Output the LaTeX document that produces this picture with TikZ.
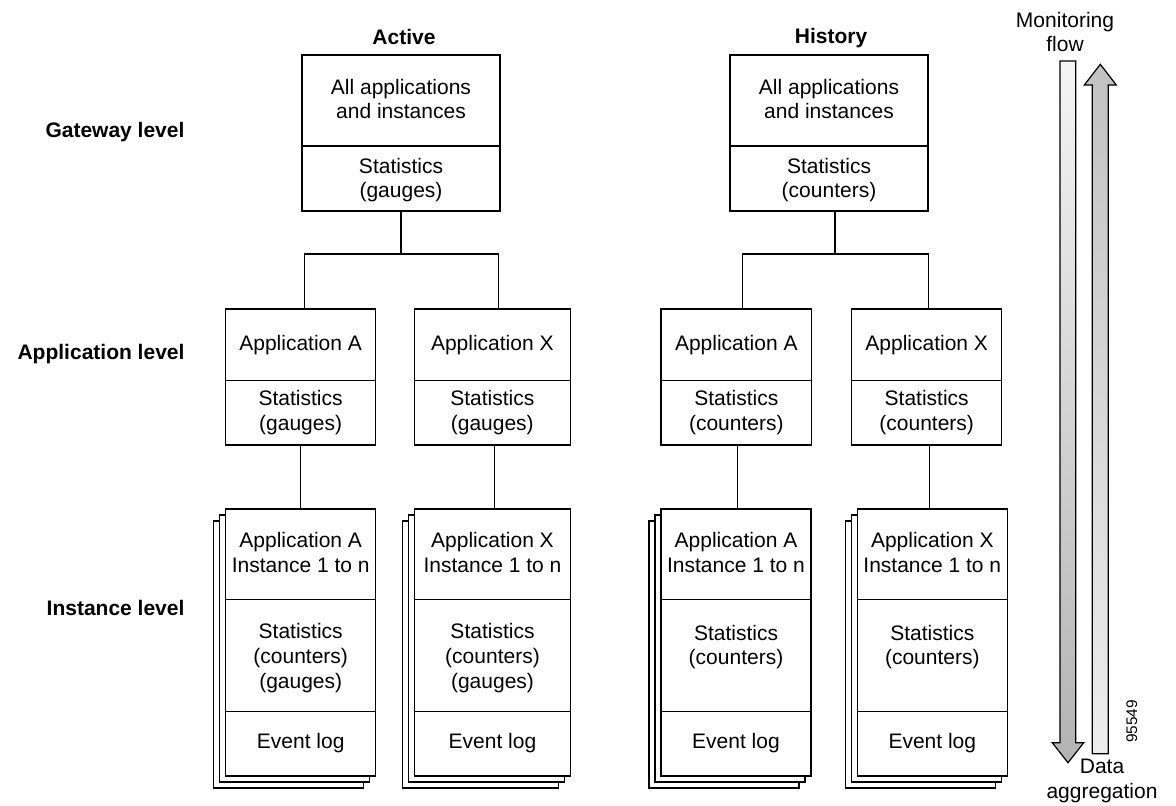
\documentclass[tikz,border=0pt]{standalone}
\usepackage{fontspec}
\setmainfont{Liberation Sans}
\usetikzlibrary{fit}

% Box of an instance, with two copies stacked behind it
\newcommand\stackedbox[3]{% name, left, right
  \draw[fill=white] ({#2-12},521) rectangle ({#3-12},788);
  \draw[fill=white] ({#2-6},515) rectangle ({#3-6},782);
  \node[frame, fit={(#2,509) (#3,776)}] (#1) {};
  \draw (#1.west |- 0,599.5) -- (#1.east |- 0,599.5);
  \draw (#1.west |- 0,711.5) -- (#1.east |- 0,711.5);
}

\begin{document}
\begin{tikzpicture}[x=0.5pt,y=-0.5pt,
  line width=0.55pt,
  frame/.style={draw, fill=white, inner sep=0pt, line width=0.55pt},
  gwframe/.style={frame, line width=1.1pt},
  txt/.style={align=center, inner sep=0pt, font=\fontsize{10.5}{12.3}\selectfont},
  lvl/.style={anchor=east, inner sep=0pt, font=\fontsize{10.5}{12.3}\selectfont\bfseries},
  head/.style={inner sep=0pt, font=\fontsize{10.5}{12.3}\selectfont\bfseries},
  flowarrow/.style={draw, line width=0.6pt},
  ]
\useasboundingbox (0,0) rectangle (1176,805);

% ---- level labels
\node[lvl] (lgw)   at (185,132) {Gateway level};
\node[lvl] (lapp)  at (185,354) {Application level};
\node[lvl] (linst) at (185,608) {Instance level};

% ---- column headings
\node[head] (hact) at (404,37) {Active};
\node[head] (hhis) at (831,38) {History};

% ---- gateway level
\node[gwframe, fit={(302,55) (500,211)}] (gwA) {};
\draw (gwA.west |- 0,146) -- (gwA.east |- 0,146);
\node[txt] (gwAt) at (401,99) {All applications\\and instances};
\node[txt] (gwAs) at (401,180) {Statistics\\(gauges)};

\node[gwframe, fit={(730,55) (928,211)}] (gwH) {};
\draw (gwH.west |- 0,146) -- (gwH.east |- 0,146);
\node[txt] (gwHt) at (829,99) {All applications\\and instances};
\node[txt] (gwHs) at (829,180) {Statistics\\(counters)};

% ---- application level
\node[frame, fit={(225.5,309) (375.7,445)}] (appAa) {};
\node[frame, fit={(414.3,309) (570.3,445)}] (appAx) {};
\node[frame, fit={(661,309) (811.7,445)}] (appHa) {};
\node[frame, fit={(851.7,309) (1001.7,445)}] (appHx) {};
\foreach \b in {appAa,appAx,appHa,appHx}
  \draw (\b.west |- 0,380.5) -- (\b.east |- 0,380.5);

\node[txt] (appAat) at (300.6,345.5) {Application A};
\node[txt] (appAas) at (300.6,412.5) {Statistics\\(gauges)};
\node[txt] (appAxt) at (492.3,345.5) {Application X};
\node[txt] (appAxs) at (492.3,412.5) {Statistics\\(gauges)};
\node[txt] (appHat) at (736.3,345.5) {Application A};
\node[txt] (appHas) at (736.3,412.5) {Statistics\\(counters)};
\node[txt] (appHxt) at (926.7,345.5) {Application X};
\node[txt] (appHxs) at (926.7,412.5) {Statistics\\(counters)};

% ---- instance level
\stackedbox{instAa}{225.7}{375.7}
\stackedbox{instAx}{414.7}{570.3}
\stackedbox{instHa}{661}{811}
\stackedbox{instHx}{857.3}{1007.3}

\node[txt] (instAat) at (300.7,552.5) {Application A\\Instance 1 to n};
\node[txt] (instAas) at (300.7,658) {Statistics\\(counters)\\(gauges)};
\node[txt] (instAae) at (300.7,743.5) {Event log};
\node[txt] (instAxt) at (492.5,552.5) {Application X\\Instance 1 to n};
\node[txt] (instAxs) at (492.5,658) {Statistics\\(counters)\\(gauges)};
\node[txt] (instAxe) at (492.5,743.5) {Event log};
\node[txt] (instHat) at (736,552.5) {Application A\\Instance 1 to n};
\node[txt] (instHas) at (736,647) {Statistics\\(counters)};
\node[txt] (instHae) at (736,743.5) {Event log};
\node[txt] (instHxt) at (932.3,552.5) {Application X\\Instance 1 to n};
\node[txt] (instHxs) at (932.3,647) {Statistics\\(counters)};
\node[txt] (instHxe) at (932.3,743.5) {Event log};

% ---- tree connectors
\draw (gwA.south) -- (gwA.south |- 0,254);
\draw ([xshift=2pt]appAa.north) |- (gwA.south |- 0,254) -| ([xshift=3pt]appAx.north);
\draw ([xshift=3pt]gwH.south) -- ([xshift=3pt]gwH.south |- 0,254);
\draw ([xshift=3pt]appHa.north) |- ([xshift=3pt]gwH.south |- 0,254) -| ([xshift=1pt]appHx.north);

\draw (appAa.south) -- (appAa.south |- instAa.north);
\draw ([xshift=1.3pt]appAx.south) -- ([xshift=1.3pt]appAx.south |- instAx.north);
\draw ([xshift=0.5pt]appHa.south) -- ([xshift=0.5pt]appHa.south |- instHa.north);
\draw ([xshift=1.3pt]appHx.south) -- ([xshift=1.3pt]appHx.south |- instHx.north);

% ---- monitoring flow (down) and data aggregation (up)
\path[flowarrow, top color=black!4, bottom color=black!30]
  (1060,61) -- (1075.7,61) -- (1075.7,742.7) -- (1083.7,742.7)
  -- (1068,762.7) -- (1052.3,742.7) -- (1060,742.7) -- cycle;
\path[flowarrow, top color=black!24, bottom color=black!7]
  (1092.3,753.7) -- (1108.3,753.7) -- (1108.3,85) -- (1116.3,85)
  -- (1100.3,64.3) -- (1084.3,85) -- (1092.3,85) -- cycle;

\node[txt] (mon) at (1065,32) {Monitoring\\flow};
\node[txt] (agg) at (1102,781) {Data\\aggregation};
\node[rotate=90, inner sep=0pt, font=\fontsize{7.7}{9}\selectfont] (fig) at (1131.7,721.5) {95549};

\end{tikzpicture}
\end{document}
